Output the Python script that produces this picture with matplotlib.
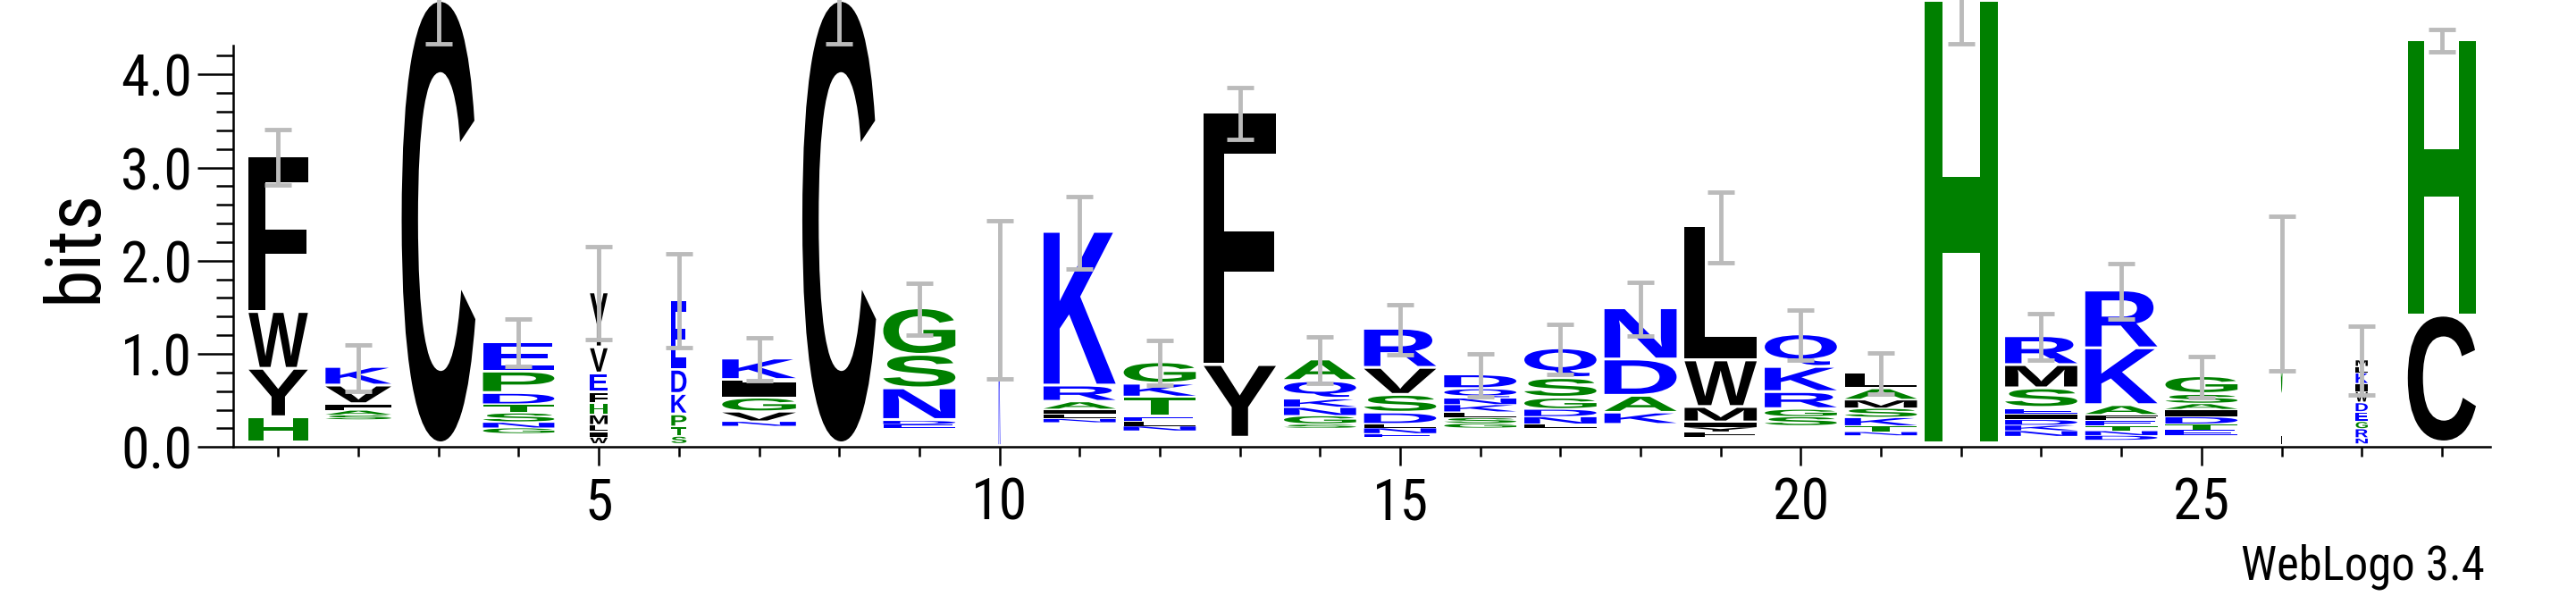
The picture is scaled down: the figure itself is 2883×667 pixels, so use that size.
import matplotlib

matplotlib.use("Agg")
import matplotlib.pyplot as plt
from matplotlib.font_manager import FontProperties
from matplotlib.patches import PathPatch
from matplotlib.textpath import TextPath
from matplotlib.transforms import Affine2D
from matplotlib.ticker import MultipleLocator

# one entry per position: bottom offset, letters (bottom to top), heights in bits
POSITIONS = list(range(1, 29))
OFFSETS = [0.04, 0.29, 0.03, 0.14, 0.03, 0.03, 0.22, 0.03, 0.20, 0.0,
           0.26, 0.17, 0.09, 0.20, 0.10, 0.20, 0.20, 0.24, 0.10, 0.22,
           0.12, 0.03, 0.11, 0.07, 0.12, 0.0, 0.03, 0.04]
LETTERS = ["HYWF", "SALIVK", "C", "GNSTDPE", "WILMHFEVY", "STPKDE", "NVGILK", "C",
           "EDNSG", "K", "NLIARK", "NLETKG", "YF", "SGNKQA", "ENLDSVR", "GSLKNQD",
           "LNDGSQ", "KADN", "FYIMWL", "SGRKQ", "NTKSMAL", "H", "NKDIESMR",
           "DNTEFAKR", "ETDIASG", "LG", "NRGEDWIKLM", "CH"]
HEIGHTS = [
    [0.27, 0.52, 0.61, 1.67],
    [0.05, 0.05, 0.03, 0.03, 0.20, 0.20],
    [4.75],
    [0.06, 0.06, 0.10, 0.09, 0.12, 0.23, 0.32],
    [0.07, 0.06, 0.07, 0.11, 0.12, 0.12, 0.20, 0.28, 0.59],
    [0.08, 0.10, 0.13, 0.22, 0.26, 0.75],
    [0.05, 0.10, 0.15, 0.16, 0.03, 0.23],
    [4.75],
    [0.04, 0.04, 0.34, 0.36, 0.50],
    [1.58],
    [0.04, 0.05, 0.05, 0.08, 0.17, 1.65],
    [0.05, 0.05, 0.05, 0.21, 0.14, 0.23],
    [0.78, 2.71],
    [0.04, 0.09, 0.09, 0.09, 0.19, 0.23],
    [0.04, 0.06, 0.04, 0.12, 0.19, 0.29, 0.42],
    [0.05, 0.06, 0.06, 0.08, 0.07, 0.10, 0.15],
    [0.04, 0.08, 0.08, 0.12, 0.21, 0.32],
    [0.12, 0.18, 0.39, 0.55],
    [0.06, 0.05, 0.05, 0.16, 0.50, 1.44],
    [0.10, 0.08, 0.18, 0.27, 0.35],
    [0.04, 0.06, 0.09, 0.10, 0.09, 0.12, 0.17],
    [4.75],
    [0.06, 0.06, 0.06, 0.06, 0.06, 0.21, 0.25, 0.31],
    [0.05, 0.05, 0.05, 0.06, 0.06, 0.10, 0.61, 0.62],
    [0.06, 0.06, 0.08, 0.08, 0.06, 0.10, 0.19],
    [0.55, 1.10],
    [0.06, 0.10, 0.08, 0.10, 0.10, 0.12, 0.08, 0.12, 0.07, 0.07],
    [1.36, 2.96],
]
WIDTHS = [0.74, 0.82, 0.92, 0.89, 0.22, 0.19, 0.92, 0.92, 0.90, 0.02,
          0.90, 0.90, 0.90, 0.90, 0.90, 0.90, 0.90, 0.90, 0.90, 0.90,
          0.90, 0.92, 0.90, 0.90, 0.90, 0.02, 0.15, 0.85]
ERRORS = [0.30, 0.25, 0.45, 0.25, 0.50, 0.50, 0.23, 0.45, 0.28, 0.85,
          0.39, 0.24, 0.28, 0.25, 0.27, 0.23, 0.27, 0.29, 0.38, 0.27,
          0.22, 0.45, 0.25, 0.30, 0.22, 0.83, 0.37, 0.12]

GREEN = "#008000"
BLUE = "#0000FF"
COLORS = {}
for aa in "HGSPAT":
    COLORS[aa] = GREEN
for aa in "NKRDEQ":
    COLORS[aa] = BLUE
for aa in "CYFWLMVI":
    COLORS[aa] = "black"

GLYPH_FONT = FontProperties(family="Liberation Sans", weight="bold")
LABEL_FONT = ["Liberation Sans Narrow", "Roboto Condensed", "Liberation Sans", "DejaVu Sans"]


def draw_letter(ax, letter, x, y, width, height):
    path = TextPath((0, 0), letter, size=1, prop=GLYPH_FONT)
    ext = path.get_extents()
    gap = min(0.03, height * 0.15)
    h = height - gap
    tr = (Affine2D().translate(-ext.x0, -ext.y0)
          .scale(width / ext.width, h / ext.height)
          .translate(x - width / 2, y + gap))
    patch = PathPatch(tr.transform_path(path), facecolor=COLORS[letter],
                      edgecolor="none", clip_on=False)
    ax.add_patch(patch)


fig = plt.figure(figsize=(28.83, 6.67), dpi=100)
ax = fig.add_axes([0.0906, 0.25, 0.876, 0.6735])

tops = []
for pos, off, letters, heights, width in zip(POSITIONS, OFFSETS, LETTERS, HEIGHTS, WIDTHS):
    y = off
    for letter, h in zip(letters, heights):
        draw_letter(ax, letter, pos, y, width, h)
        y += h
    tops.append(y)

ax.errorbar(POSITIONS, tops, yerr=ERRORS, fmt="none", ecolor="#BBBBBB",
            elinewidth=3.5, capsize=11, capthick=3.5, clip_on=False, zorder=5)

ax.set_xlim(0.44, 28.6)
ax.set_ylim(0, 4.31)
for side in ("top", "right"):
    ax.spines[side].set_visible(False)
for side in ("left", "bottom"):
    ax.spines[side].set_linewidth(1.8)

ax.yaxis.set_major_locator(MultipleLocator(1.0))
ax.yaxis.set_minor_locator(MultipleLocator(0.2))
ax.xaxis.set_major_locator(MultipleLocator(5))
ax.xaxis.set_minor_locator(MultipleLocator(1))
ax.set_yticks([0, 1, 2, 3, 4], labels=["0.0", "1.0", "2.0", "3.0", "4.0"])
ax.tick_params(axis="y", which="major", length=29, width=1.8, labelsize=46, pad=4)
ax.tick_params(axis="y", which="minor", length=14, width=1.8)
ax.tick_params(axis="x", which="major", length=15, width=1.8, labelsize=46, pad=8)
ax.tick_params(axis="x", which="minor", length=8, width=1.8)
for lab in ax.get_xticklabels() + ax.get_yticklabels():
    lab.set_family(LABEL_FONT)

ax.set_ylabel("bits", fontsize=62, family=LABEL_FONT, labelpad=8)
fig.text(0.9645, 0.027, "WebLogo 3.4", ha="right", va="baseline",
         fontsize=38, family=LABEL_FONT)

fig.savefig("out.png", dpi=100)
